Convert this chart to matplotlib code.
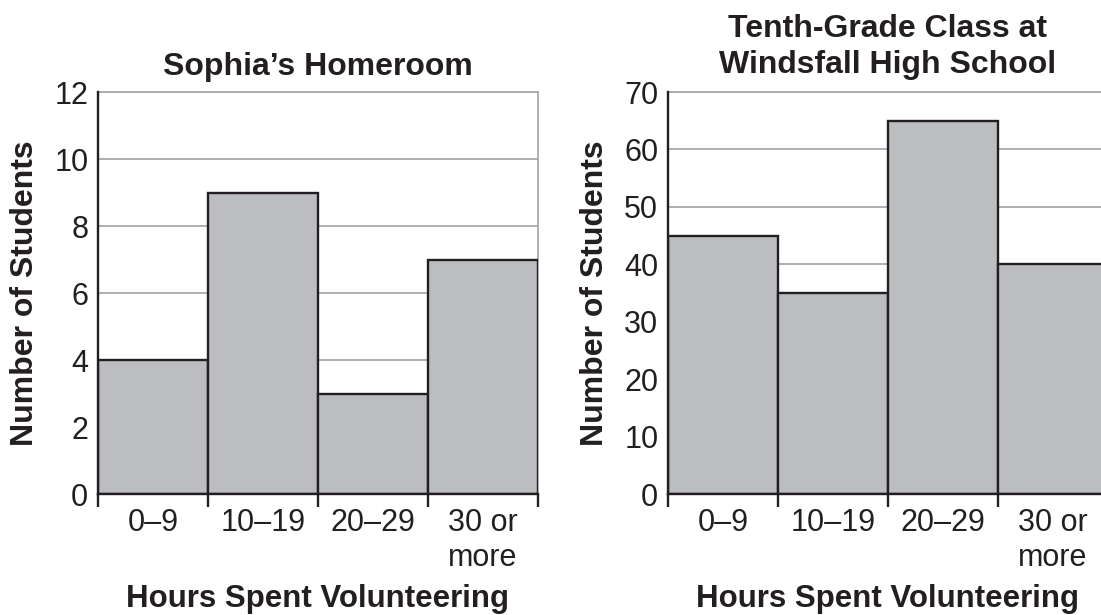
import numpy as np
import matplotlib
matplotlib.use("Agg")
import matplotlib.pyplot as plt
from matplotlib.ticker import FixedLocator, NullFormatter, FixedFormatter

plt.rcParams['font.family'] = ['Liberation Sans', 'DejaVu Sans']

# Datos de los dos histogramas
categorias = ['0–9', '10–19', '20–29', '30 or\nmore']
homeroom = [4, 9, 3, 7]
decimo = [45, 35, 65, 40]

BAR = '#bcbdc1'
EDGE = '#231f20'
GRID = '#a7a9ac'

fig = plt.figure(figsize=(11.01, 6.15), dpi=100)
ax1 = fig.add_axes([0.0890, 0.1967, 0.3996, 0.6537])
ax2 = fig.add_axes([0.6067, 0.1967, 0.3996, 0.6537])


def histograma(ax, valores, ymax, paso, titulo, ty, esp):
    x = np.arange(len(valores))
    ax.bar(x, valores, width=1, align='edge', color=BAR, edgecolor=EDGE,
           linewidth=1.7, zorder=3)
    ax.set_xlim(0, len(valores))
    ax.set_ylim(0, ymax)

    # Eje y: líneas de cuadrícula grises
    ax.set_yticks(np.arange(0, ymax + 1, paso))
    ax.yaxis.grid(True, color=GRID, linewidth=1.3, zorder=0)
    ax.tick_params(axis='y', length=0, pad=7, labelsize=22, colors=EDGE)

    # Eje x: marcas en los bordes, etiquetas en el centro
    ax.xaxis.set_major_locator(FixedLocator(np.arange(len(valores) + 1)))
    ax.xaxis.set_major_formatter(NullFormatter())
    ax.xaxis.set_minor_locator(FixedLocator(x + 0.5))
    ax.xaxis.set_minor_formatter(FixedFormatter(categorias))
    ax.tick_params(axis='x', which='major', length=9.5, width=1.7,
                   direction='out', color=EDGE)
    ax.tick_params(axis='x', which='minor', length=0, pad=10,
                   labelsize=22, labelcolor=EDGE)
    for lbl in ax.get_xticklabels(minor=True):
        lbl.set_linespacing(1.22)

    for lado in ['left', 'bottom']:
        ax.spines[lado].set_color(EDGE)
        ax.spines[lado].set_linewidth(1.7)
        ax.spines[lado].set_zorder(4)
    for lado in ['right', 'top']:
        ax.spines[lado].set_color(GRID)
        ax.spines[lado].set_linewidth(1.3)

    ax.text(0.5, ty, titulo, transform=ax.transAxes, ha='center',
            va='baseline', fontsize=23, fontweight='bold', color=EDGE,
            linespacing=esp)
    ax.text(0.5, -0.281, 'Hours Spent Volunteering', transform=ax.transAxes,
            ha='center', va='baseline', fontsize=22.5, fontweight='bold',
            color=EDGE)
    ax.set_ylabel('Number of Students', fontsize=23, fontweight='bold',
                  color=EDGE)
    ax.yaxis.set_label_coords(-0.132, 0.5)


histograma(ax1, homeroom, 12, 2, 'Sophia’s Homeroom', 1.043, 1.2)
histograma(ax2, decimo, 70, 10, 'Tenth-Grade Class at\nWindsfall High School',
           1.048, 1.26)

fig.savefig('out.png', dpi=100)
